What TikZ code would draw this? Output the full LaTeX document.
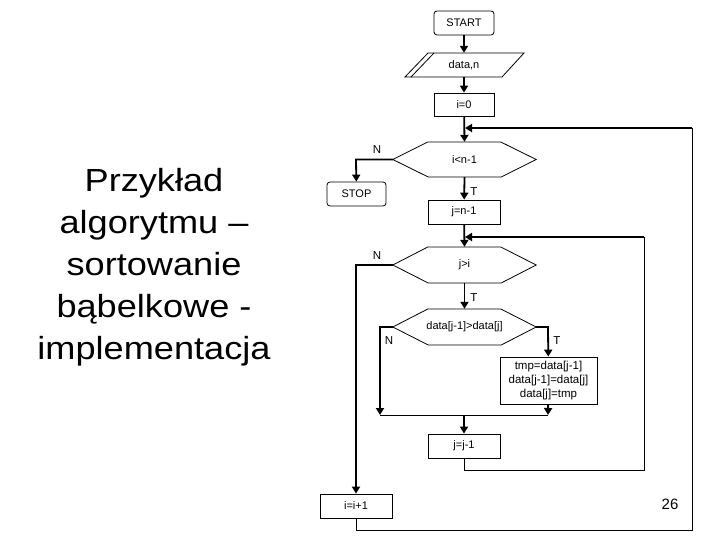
\documentclass[tikz,border=0pt]{standalone}
\usepackage{fontspec}
\setmainfont{Liberation Sans}
\usetikzlibrary{arrows.meta}
\begin{document}
\begin{tikzpicture}[x=1pt,y=-1pt,
  every node/.style={font=\fontsize{11}{13}\selectfont, inner sep=0pt},
  box/.style={draw, line width=0.8pt, minimum width=72pt, minimum height=24pt},
  rbox/.style={draw, line width=0.8pt, rounded corners=3pt, minimum height=24pt},
  hexnode/.style={minimum width=143pt, minimum height=35pt},
  flow/.style={line width=1.8pt, -{Triangle[length=7pt,width=8pt]}},
  thinline/.style={line width=1pt},
  lbl/.style={font=\fontsize{11.5}{13}\selectfont}]
\useasboundingbox (0,0) rectangle (720,540);
\fill[white] (0,0) rectangle (720,540);

% title
\node[anchor=north, font=\fontsize{32}{42}\selectfont] (title) at (154,162)
  {\scalebox{1.13}[1]{\begin{tabular}{@{}c@{}}Przykład\\algorytmu –\\sortowanie\\bąbelkowe -\\implementacja\end{tabular}}};

% nodes
\node[rbox, minimum width=60pt] (start) at (464,23) {START};
\node[minimum width=80pt, minimum height=24pt] (data) at (464,65) {data,n};
\draw[line width=0.8pt] (405,77) -- (428,53) -- (524,53) -- (502,77) -- cycle;
\draw[line width=0.8pt] (411,77) -- (434,53);
\node[box, minimum width=60pt, minimum height=23pt] (i0) at (464,104.5) {i=0};

\node[hexnode] (h1) at (464.5,159.5) {i<n-1};
\draw[line width=0.8pt] (h1.west) -- ++(35,-17.5) -- ++(73,0) -- (h1.east) -- ++(-35,17.5) -- ++(-73,0) -- cycle;
\node[rbox, minimum width=59pt] (stop) at (356.5,194) {STOP};
\node[box] (jn) at (464,212) {j=n-1};

\node[hexnode, minimum height=36pt] (h2) at (464.5,265) {j>i};
\draw[line width=0.8pt] (h2.west) -- ++(35,-18) -- ++(73,0) -- (h2.east) -- ++(-35,18) -- ++(-73,0) -- cycle;

\node[hexnode, minimum height=36pt] (h3) at (464.5,327) {data[j-1]>data[j]};
\draw[line width=0.8pt] (h3.west) -- ++(35,-18) -- ++(73,0) -- (h3.east) -- ++(-35,18) -- ++(-73,0) -- cycle;

\node[box, minimum width=97pt, minimum height=47pt, align=center, font=\fontsize{11.5}{14}\selectfont] (tmp) at (548.5,380.5) {tmp=data[j-1]\\data[j-1]=data[j]\\data[j]=tmp};

\node[box] (jj) at (464,446) {j=j-1};
\node[box] (ii) at (356,506) {i=i+1};

\node[font=\fontsize{15}{17}\selectfont] (pg) at (670,504) {26};

% coordinates
\coordinate (c1) at (356,159.5);
\coordinate (c2) at (356,265);
\coordinate (c3) at (380,327);
\coordinate (c4) at (548,327);
\coordinate (jl) at (380,415);
\coordinate (jr) at (548,415);
\coordinate (jm) at (464,415);
\coordinate (e1) at (465,128);
\coordinate (e2) at (465,237);

% main flow
\draw[flow] (start) -- (data);
\draw[flow] (data) -- (i0);
\draw[flow] (i0) -- (h1.north);
\draw[flow] (h1.south) -- (jn);
\draw[flow] (jn) -- (h2.north);
\draw[flow] (h2.south) -- (h3.north);
\draw[flow] (h1.west) -- (c1) -- (stop);
\draw[flow] (h2.west) -- (c2) -- (ii);
\draw[flow] (h3.west) -- (c3) -- (jl);
\draw[flow] (h3.east) -- (c4) -- (tmp);
\draw[flow] (tmp) -- (jr);
\draw[thinline] (jl) -- (jr);
\draw[flow] (jm) -- (jj);

% loops
\draw[thinline] (jj.south) -- ++(0,12) -| (644,237);
\draw[flow] (644,237) -- (e2);
\draw[thinline] (ii.south) -- ++(0,12) -| (692,128);
\draw[flow] (692,128) -- (e1);

% labels
\node[lbl] (n1) at (377,150) {N};
\node[lbl] (t1) at (474,192) {T};
\node[lbl] (n2) at (377,256) {N};
\node[lbl] (t2) at (474,298) {T};
\node[lbl] (n3) at (389,341) {N};
\node[lbl] (t3) at (557,341) {T};
\end{tikzpicture}
\end{document}
